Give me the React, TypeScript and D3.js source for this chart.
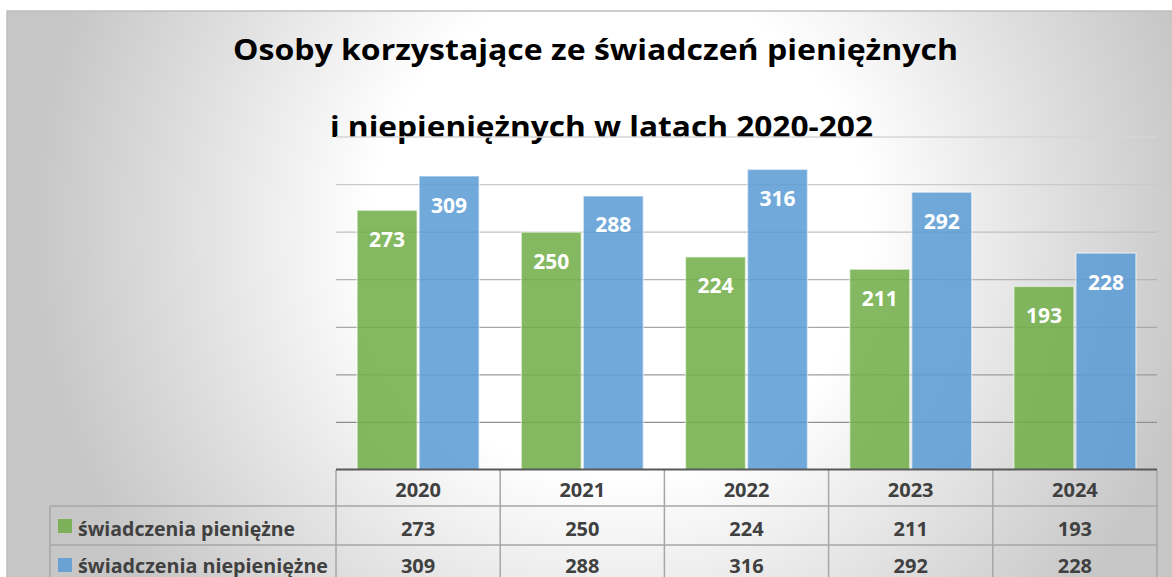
import React from "react";
import * as d3 from "d3";

const years = ["2020", "2021", "2022", "2023", "2024"];
const seriesNames = ["świadczenia pieniężne", "świadczenia niepieniężne"];
const pieniezne = [273, 250, 224, 211, 193];
const niepieniezne = [309, 288, 316, 292, 228];
const gridTicks = [50, 100, 150, 200, 250, 300, 350];
const titleLines = [
  "Osoby korzystające ze świadczeń pieniężnych",
  "i niepieniężnych w latach 2020-202",
];

const W = 1172;
const H = 577;
const colors = ["#70AD47", "#5B9BD5"];
const FONT = "'Open Sans', 'DejaVu Sans', sans-serif";

export default function App() {
  const plotL = 336;
  const plotR = 1157;
  const baseY = 470;
  const topY = 137;

  const x = d3.scaleBand<string>().domain(years).range([plotL, plotR]).paddingInner(0).paddingOuter(0);
  const xs = d3
    .scaleBand<number>()
    .domain([0, 1])
    .range([0, x.bandwidth()])
    .paddingInner(0.032)
    .paddingOuter(0.34);
  const y = d3.scaleLinear().domain([0, 350]).range([baseY, topY]);
  const gridColor = d3.scaleLinear<string>().domain([50, 350]).range(["#909090", "#d6d6d6"]);

  const series = [pieniezne, niepieniezne];
  const rowBaselines = [536, 573];
  const rowTops = [506, 545];
  const legendY = [519, 558];
  const legendLen = [217, 250];

  return (
    <svg
      width={W}
      height={H}
      style={{ position: "absolute", left: 0, top: 0, display: "block" }}
    >
      <defs>
        <radialGradient id="bg" gradientUnits="userSpaceOnUse" cx={620} cy={230} r={590}>
          <stop offset="0" stopColor="#ffffff" />
          <stop offset="0.42" stopColor="#ffffff" />
          <stop offset="0.75" stopColor="#dedede" />
          <stop offset="1" stopColor="#c6c6c6" />
        </radialGradient>
      </defs>
      <rect x={0} y={0} width={W} height={H} fill="#ffffff" />
      <rect
        x={7}
        y={11}
        width={W + 20}
        height={H + 20}
        fill="url(#bg)"
        stroke="#bfbfbf"
        strokeWidth={1.5}
      />

      {/* Title */}
      <text
        x={595.5}
        y={60}
        textAnchor="middle"
        fontFamily={FONT}
        fontWeight={700}
        fontSize={28}
        fill="#000"
        textLength={725}
        lengthAdjust="spacingAndGlyphs"
      >
        {titleLines[0]}
      </text>
      <text
        x={601.5}
        y={137}
        textAnchor="middle"
        fontFamily={FONT}
        fontWeight={700}
        fontSize={28}
        fill="#000"
        textLength={543}
        lengthAdjust="spacingAndGlyphs"
      >
        {titleLines[1]}
      </text>

      {/* Gridlines */}
      {gridTicks.map((t) => (
        <line
          key={t}
          x1={plotL}
          x2={plotR}
          y1={y(t)}
          y2={y(t)}
          stroke={gridColor(t)}
          strokeWidth={1.3}
        />
      ))}

      {/* Bars */}
      {years.map((yr, i) => (
        <g key={yr}>
          {series.map((vals, s) => {
            const bx = (x(yr) as number) + (xs(s) as number);
            const by = y(vals[i]);
            return (
              <g key={s}>
                <rect
                  x={bx}
                  y={by}
                  width={xs.bandwidth()}
                  height={baseY - by}
                  fill={colors[s]}
                  fillOpacity={0.86}
                  stroke="#ffffff"
                  strokeOpacity={0.5}
                  strokeWidth={1.5}
                />
                <text
                  x={bx + xs.bandwidth() / 2}
                  y={by + 36.5}
                  textAnchor="middle"
                  fontFamily={FONT}
                  fontWeight={700}
                  fontSize={21}
                  fill="#ffffff"
                >
                  {vals[i]}
                </text>
              </g>
            );
          })}
        </g>
      ))}

      {/* Data table */}
      {/* horizontal row lines */}
      {rowTops.map((ry) => (
        <line key={ry} x1={50} x2={plotR} y1={ry} y2={ry} stroke="#a6a6a6" strokeWidth={1.5} />
      ))}
      {/* left border of legend column */}
      <line x1={50} x2={50} y1={rowTops[0]} y2={H + 5} stroke="#a6a6a6" strokeWidth={1.5} />
      {/* vertical cell lines */}
      {years.map((yr) => (
        <line
          key={yr}
          x1={x(yr) as number}
          x2={x(yr) as number}
          y1={baseY}
          y2={H + 5}
          stroke="#a6a6a6"
          strokeWidth={1.5}
        />
      ))}
      <line x1={plotR} x2={plotR} y1={baseY} y2={H + 5} stroke="#a6a6a6" strokeWidth={1.5} />
      {/* axis line */}
      <line x1={plotL} x2={plotR} y1={baseY - 0.5} y2={baseY - 0.5} stroke="#595959" strokeWidth={2} />

      {/* header */}
      {years.map((yr) => (
        <text
          key={yr}
          x={(x(yr) as number) + x.bandwidth() / 2}
          y={496.5}
          textAnchor="middle"
          fontFamily={FONT}
          fontWeight={700}
          fontSize={20}
          fill="#404040"
        >
          {yr}
        </text>
      ))}

      {/* rows */}
      {series.map((vals, s) => (
        <g key={s}>
          <rect x={58} y={legendY[s]} width={14} height={14} fill={colors[s]} fillOpacity={0.86} />
          <text
            x={78}
            y={rowBaselines[s]}
            fontFamily={FONT}
            fontWeight={700}
            fontSize={20}
            fill="#404040"
            textLength={legendLen[s]}
            lengthAdjust="spacingAndGlyphs"
          >
            {seriesNames[s]}
          </text>
          {years.map((yr, i) => (
            <text
              key={yr}
              x={(x(yr) as number) + x.bandwidth() / 2}
              y={rowBaselines[s]}
              textAnchor="middle"
              fontFamily={FONT}
              fontWeight={700}
              fontSize={20}
              fill="#404040"
            >
              {vals[i]}
            </text>
          ))}
        </g>
      ))}
    </svg>
  );
}
